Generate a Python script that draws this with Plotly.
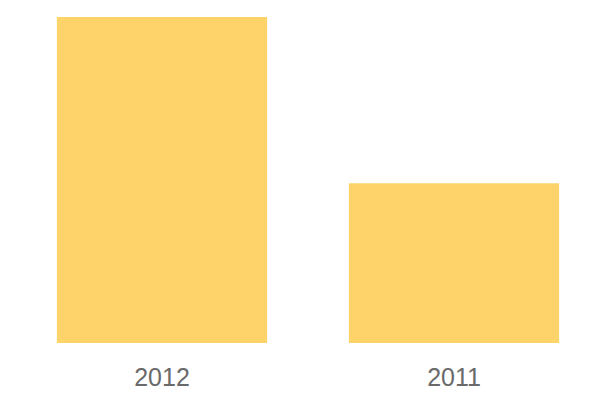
import plotly.graph_objects as go

years = ["2012", "2011"]
values = [100, 49]

fig = go.Figure(go.Bar(
    x=years, y=values,
    marker=dict(color="#FED46A", line_width=0),
))
fig.update_layout(
    width=600, height=400,
    margin=dict(l=8, r=8, t=9, b=65),
    paper_bgcolor="white", plot_bgcolor="white",
    bargap=0.28,
    showlegend=False,
    font=dict(family="Liberation Sans", size=25, color="#6a6a6a"),
)
fig.update_xaxes(showgrid=False, showline=False, ticks="", ticklabelstandoff=17)
fig.update_yaxes(visible=False, range=[0, 100])
fig.write_html("out.html")
